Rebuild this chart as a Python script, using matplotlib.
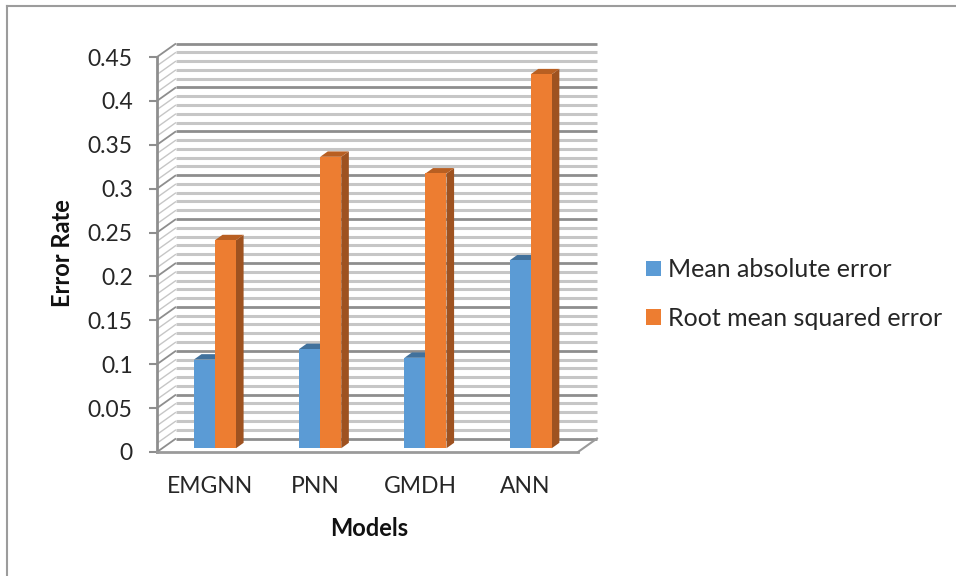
import numpy as np
import matplotlib
matplotlib.use('Agg')
import matplotlib.pyplot as plt
from matplotlib.patches import Polygon, Rectangle
from matplotlib.lines import Line2D

models = ['EMGNN', 'PNN', 'GMDH', 'ANN']
mae = [0.101, 0.113, 0.103, 0.214]
rmse = [0.237, 0.332, 0.313, 0.426]
series_names = ['Mean absolute error', 'Root mean squared error']
y_ticks = [0, 0.05, 0.1, 0.15, 0.2, 0.25, 0.3, 0.35, 0.4, 0.45]
y_tick_labels = ['0', '0.05', '0.1', '0.15', '0.2', '0.25', '0.3', '0.35', '0.4', '0.45']

W, H = 956, 576
BLUE = '#5B9BD5'
ORANGE = '#ED7D31'
BLUE_TOP, BLUE_SIDE = '#41719C', '#35658F'
ORANGE_TOP, ORANGE_SIDE = '#B85F22', '#9E5220'
FONT = 'Lato'
TEXT = '#262626'

# pixel box of the front plane of the 3d chart
LEFT, RIGHT, TOP, BOTTOM = 157, 578, 57, 452
DX_PX, DY_PX = 19, 13.5  # depth of the floor in pixels
BAR_W = 0.2
D0, D1 = 0.28, 0.68  # bars sit between these depths


def depth(x, y, d):
    """ shift a data point back into the chart by fraction d of the depth"""
    return (x + d*DX_PX/((RIGHT - LEFT)/len(models)),
            y + d*DY_PX/((BOTTOM - TOP)/y_ticks[-1]))


def draw_bar(ax, x, v, front, top, side):
    a = [depth(x, 0, D0), depth(x + BAR_W, 0, D0), depth(x + BAR_W, v, D0), depth(x, v, D0)]
    ax.add_patch(Polygon([depth(x + BAR_W, 0, D0), depth(x + BAR_W, 0, D1),
                          depth(x + BAR_W, v, D1), depth(x + BAR_W, v, D0)],
                         fc=side, ec='none', zorder=5))
    ax.add_patch(Polygon([depth(x, v, D0), depth(x + BAR_W, v, D0),
                          depth(x + BAR_W, v, D1), depth(x, v, D1)],
                         fc=top, ec='none', zorder=5))
    ax.add_patch(Polygon(a, fc=front, ec='none', zorder=6))


fig = plt.figure(figsize=(W/100, H/100), dpi=100)
ax = fig.add_axes([LEFT/W, 1 - BOTTOM/H, (RIGHT - LEFT)/W, (BOTTOM - TOP)/H])
ax.set_xlim(0, len(models))
ax.set_ylim(0, y_ticks[-1])
ax.patch.set_alpha(0)
for s in ax.spines.values():
    s.set_visible(False)

# back wall and side wall gridlines, minor every 0.01
for g in np.arange(46)/100:
    major = int(round(g*100)) % 5 == 0
    col = '#8E8E8E' if major else '#C6C6C6'
    lw = 2.0 if major else 2.2
    p0 = depth(0, g, 0)
    p1 = depth(0, g, 1)
    p2 = depth(len(models), g, 1)
    ax.plot([p0[0], p1[0]], [p0[1], p1[1]], color=col, lw=1.3 if major else 1.0,
            clip_on=False, zorder=1, solid_capstyle='butt')
    ax.plot([p1[0], p2[0]], [p1[1], p2[1]], color=col, lw=lw,
            clip_on=False, zorder=1, solid_capstyle='butt')

# floor edges and axis lines
ax.plot([0, 0], [0, y_ticks[-1]], color='#8E8E8E', lw=2, clip_on=False, zorder=2)
ax.plot([0, len(models)], [0, 0], color='#9A9A9A', lw=2, clip_on=False, zorder=2)
p0 = depth(len(models), 0, 0)
p1 = depth(len(models), 0, 1)
ax.plot([p0[0], p1[0]], [p0[1], p1[1]], color='#9A9A9A', lw=1.5, clip_on=False, zorder=2)

for i in range(len(models)):
    draw_bar(ax, i + 0.5 - BAR_W, mae[i], BLUE, BLUE_TOP, BLUE_SIDE)
    draw_bar(ax, i + 0.5, rmse[i], ORANGE, ORANGE_TOP, ORANGE_SIDE)

ax.set_yticks(y_ticks)
ax.set_yticklabels(y_tick_labels, fontsize=16.5, family=FONT, color=TEXT)
ax.set_xticks(np.arange(len(models)) + 0.5)
ax.set_xticklabels(models, fontsize=16.5, family=FONT, color=TEXT)
ax.tick_params(axis='y', length=5.5, width=1.5, color='#8E8E8E', pad=12)
ax.tick_params(axis='x', length=0, pad=17)
ax.set_xlabel('Models', fontsize=17, family=FONT, fontweight='bold', color='#111111')
ax.xaxis.set_label_coords((369 - LEFT)/(RIGHT - LEFT), -(529 - BOTTOM)/(BOTTOM - TOP))
ax.xaxis.label.set_verticalalignment('center')
ax.set_ylabel('Error Rate', fontsize=17, family=FONT, fontweight='bold', color='#111111')
ax.yaxis.set_label_coords(-(LEFT - 62)/(RIGHT - LEFT), (BOTTOM - 253)/(BOTTOM - TOP))
ax.yaxis.label.set_verticalalignment('center')

# legend
handles = [Rectangle((0, 0), 1, 1, fc=BLUE), Rectangle((0, 0), 1, 1, fc=ORANGE)]
fig.legend(handles, series_names, loc='center left', bbox_to_anchor=(646/W, 1 - 294/H),
           frameon=False, prop={'family': FONT, 'size': 18}, labelcolor=TEXT,
           handlelength=0.6, handleheight=0.6, handletextpad=0.3,
           labelspacing=1.02, borderpad=0, borderaxespad=0)

# grey frame of the pasted picture
fig.add_artist(Line2D([7/W, 7/W], [0, 1 - 6/H], color='#9C9C9C', lw=1.5))
fig.add_artist(Line2D([7/W, 1], [1 - 6/H, 1 - 6/H], color='#9C9C9C', lw=1.5))

fig.savefig('out.png', dpi=100)
